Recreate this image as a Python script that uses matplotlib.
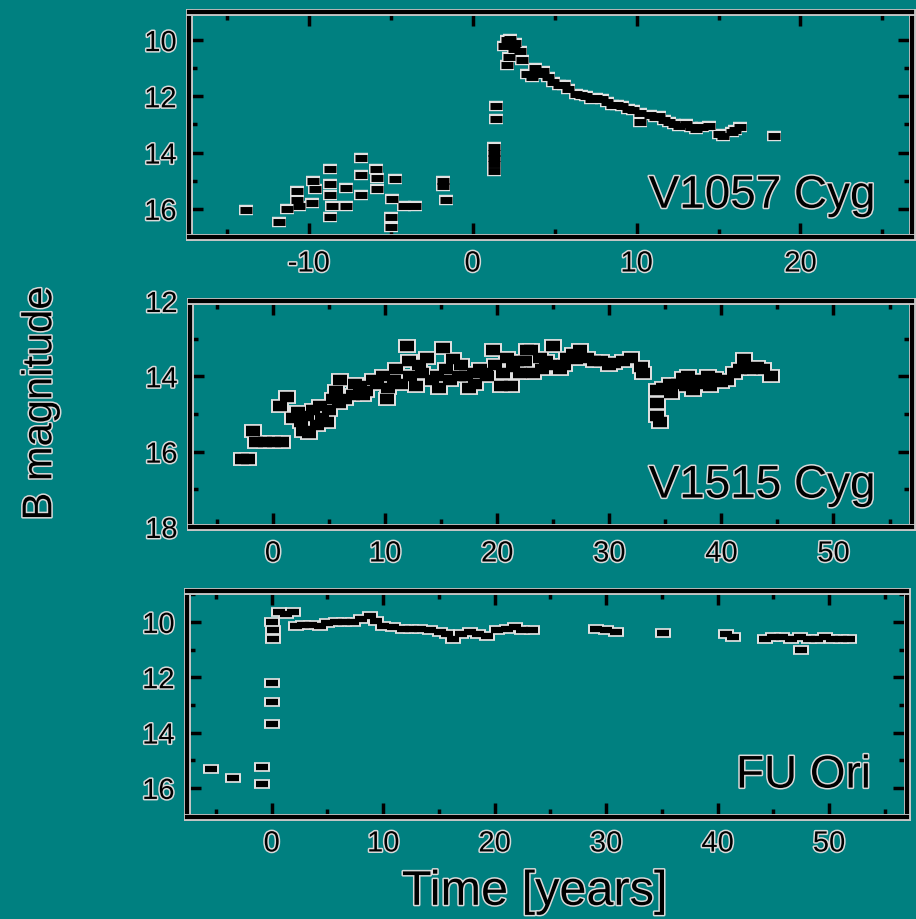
import matplotlib
matplotlib.use("Agg")
import matplotlib.pyplot as plt
import matplotlib.patheffects as pe
from matplotlib.ticker import MultipleLocator

plt.rcParams['font.family'] = ['Liberation Sans', 'DejaVu Sans']
plt.rcParams['axes.unicode_minus'] = False

BG = '#008080'

# V1057 Cyg light curve (years from outburst, B mag)
v1057_t = [-13.8, -11.8, -11.3, -10.7, -10.7, -10.6, -9.75, -9.8, -9.6, -8.7, -8.7,
           -8.7, -8.6, -8.7, -7.7, -7.7, -6.8, -6.8, -6.8, -5.85, -5.85, -5.9, -4.75,
           -4.9, -4.95, -5.0, -4.2, -3.5, -1.8, -1.8, -1.6,
           1.3, 1.3, 1.3, 1.3, 1.3, 1.45, 1.45,
           1.9, 2.1, 2.3, 2.6, 2.9, 2.1, 2.2, 2.5, 3.0, 3.3, 3.6, 3.8, 4.0, 4.3, 4.6,
           4.9, 5.3, 5.6, 5.8, 6.3, 6.6, 6.9, 7.2, 7.55, 7.9, 8.2, 8.5, 8.8, 9.1, 9.5,
           9.8, 10.2, 10.2, 10.8, 11.1, 11.4, 11.7, 12.0, 12.3, 12.6, 13.0, 13.3,
           13.6, 14.0, 14.4, 15.0, 15.3, 15.8, 16.0, 16.3, 18.4]
v1057_m = [16.05, 16.45, 16.0, 15.35, 15.7, 15.9, 15.0, 15.8, 15.3, 14.6, 15.1,
           15.5, 15.9, 16.3, 15.25, 15.9, 14.2, 14.8, 15.5, 14.9, 15.3, 14.6, 14.95,
           15.65, 16.3, 16.65, 15.9, 15.9, 15.0, 15.2, 15.7,
           13.8, 14.0, 14.2, 14.4, 14.65, 12.35, 12.8,
           10.2, 10.0, 9.95, 10.1, 10.4, 10.9, 10.6, 10.3, 10.7, 11.2, 11.3, 11.0,
           11.2, 11.1, 11.3, 11.5, 11.6, 11.6, 11.75, 11.9, 11.95, 12.0, 12.1, 12.05,
           12.1, 12.2, 12.3, 12.3, 12.35, 12.45, 12.5, 12.6, 12.9, 12.65, 12.75,
           12.7, 12.85, 12.9, 13.0, 13.05, 13.0, 13.1, 13.15, 13.1, 13.05, 13.35,
           13.4, 13.25, 13.2, 13.1, 13.4]

# V1515 Cyg light curve
v1515_t = [-2.8, -2.2, -1.8, -1.5, -0.7, 0.1, 0.8,
           0.6, 1.25, 1.8, 2.2, 2.7, 3.0, 3.2, 3.6, 4.2, 4.4, 4.8, 5.0, 5.4, 5.6, 6.0,
           6.4, 7.1, 7.3, 7.8, 8.3, 8.9, 9.8, 10.2, 10.3, 10.8, 11.4, 12.0, 12.1, 12.2,
           12.8, 13.3, 13.75, 14.2, 14.6, 15.2, 15.4, 15.8, 16.1, 16.6, 17.2, 17.9,
           18.5, 19.1, 19.6, 19.8, 20.3, 20.9, 21.2, 21.4, 22.0, 22.7, 23.2, 23.8,
           24.4, 25.0, 25.6, 26.2, 26.8, 27.4, 28.0, 28.6, 29.3, 30.0, 30.4, 31.2,
           31.9, 32.8, 33.0, 20.5, 22.5, 24.0, 26.0, 18.0, 16.8, 2.5, 3.9, 5.9,
           8.0, 9.3, 11.0, 13.0, 14.8, 17.5, 19.0, 21.8, 23.0, 24.8, 27.0,
           34.3, 34.3, 34.3, 34.5, 34.8, 35.4, 36.1, 36.6, 37.0, 37.5, 38.1, 38.8,
           39.4, 40.0, 40.5, 41.1, 41.7, 42.0, 42.6, 43.2, 43.75, 44.4, 35.5, 36.8,
           38.4, 39.0]
v1515_m = [16.2, 16.2, 15.45, 15.75, 15.75, 15.75, 15.75,
           14.8, 14.55, 15.1, 14.95, 15.45, 15.05, 15.5, 14.9, 14.8, 15.1, 15.2, 14.9,
           14.6, 14.4, 14.1, 14.6, 14.5, 14.2, 14.25, 14.4, 14.1, 14.0, 14.6, 14.3,
           14.1, 14.2, 13.2, 13.6, 14.0, 14.25, 13.9, 13.5, 14.1, 14.0, 13.25, 13.8,
           14.1, 13.55, 14.0, 14.0, 13.9, 13.8, 14.0, 13.3, 13.7, 14.25, 13.5, 14.25,
           13.75, 13.9, 13.3, 13.9, 13.5, 13.6, 13.2, 13.8, 13.5, 13.4, 13.3, 13.5,
           13.6, 13.6, 13.7, 13.65, 13.6, 13.5, 13.75, 13.9, 13.9, 13.6, 13.8, 13.7,
           14.2, 13.7, 15.2, 15.3, 14.7, 14.5, 14.2, 13.8, 13.7, 14.3, 14.3,
           13.9, 13.6, 13.3, 13.7, 13.55,
           14.35, 14.7, 15.05, 15.2, 14.3, 14.2, 14.2, 14.05, 14.0, 14.35, 14.1, 14.0,
           14.05, 14.15, 14.1, 13.9, 13.8, 13.55, 13.8, 13.75, 13.8, 14.0, 14.45, 14.25,
           14.2, 14.25]

# FU Ori light curve
fuori_t = [-5.4, -3.5, -0.9, -0.9, 0.0, 0.0, 0.0, 0.1, 0.1, 0.05,
           0.7, 1.3, 1.9, 2.2, 2.8, 3.5, 4.3, 5.0, 5.8, 6.5, 7.3, 8.0, 8.8, 9.4, 10.0,
           10.9, 11.75, 12.5, 13.3, 14.2, 15.1, 15.7, 16.3, 17.0, 17.8, 18.5, 19.3,
           20.2, 21.1, 21.8, 22.5, 23.4,
           29.1, 30.0, 30.9, 35.1, 40.8, 41.4, 44.3, 45.0, 45.8, 46.6, 47.4, 47.5,
           48.2, 48.9, 49.6, 50.3, 51.1, 51.8]
fuori_m = [15.3, 15.65, 15.25, 15.85, 12.2, 12.9, 13.7, 10.6, 10.3, 10.0,
           9.65, 9.7, 9.65, 10.15, 10.1, 10.1, 10.15, 10.05, 10.0, 10.0, 10.0, 9.9,
           9.8, 9.95, 10.15, 10.2, 10.25, 10.25, 10.25, 10.3, 10.35, 10.45, 10.6,
           10.45, 10.35, 10.45, 10.5, 10.3, 10.25, 10.2, 10.3, 10.3,
           10.25, 10.3, 10.35, 10.4, 10.45, 10.55, 10.6, 10.55, 10.55, 10.6, 10.55,
           11.0, 10.6, 10.6, 10.55, 10.6, 10.6, 10.6]

halo = [pe.withStroke(linewidth=2.2, foreground='#d9d9d9')]

fig = plt.figure(figsize=(9.16, 9.20), dpi=100, facecolor=BG)

panels = [
    # rect, t, m, name, xlim, ylim, yticks, dash length, dash thickness
    ([0.2063, 0.7413, 0.7893, 0.2446], v1057_t, v1057_m, 'V1057 Cyg',
     (-17.3, 26.8), (17.0, 9.0), [10, 12, 14, 16], 8, 5),
    ([0.2074, 0.4261, 0.7882, 0.2456], v1515_t, v1515_m, 'V1515 Cyg',
     (-7.4, 57.0), (18.0, 12.0), [12, 14, 16, 18], 10.5, 7.5),
    ([0.2041, 0.1109, 0.7861, 0.2457], fuori_t, fuori_m, 'FU Ori',
     (-7.6, 57.0), (17.05, 8.88), [10, 12, 14, 16], 8.5, 4.5),
]

for rect, t, m, name, xlim, ylim, yticks, ms, mw in panels:
    ax = fig.add_axes(rect)
    ax.set_facecolor(BG)
    # pale rim first, black dashes on top
    ax.plot(t, m, '_', color='#e0e0e0', markersize=ms + 2.5, markeredgewidth=mw + 2.5,
            zorder=2)
    ax.plot(t, m, '_', color='black', markersize=ms, markeredgewidth=mw, zorder=3)
    ax.set_xlim(*xlim)
    ax.set_ylim(*ylim)
    ax.xaxis.set_major_locator(MultipleLocator(10))
    ax.xaxis.set_minor_locator(MultipleLocator(5))
    ax.set_yticks(yticks)
    ax.yaxis.set_minor_locator(MultipleLocator(1))
    ax.tick_params(which='both', direction='in', top=True, right=True,
                   color='black', width=2.5)
    ax.tick_params(which='major', length=10, labelsize=21, pad=9)
    ax.tick_params(which='minor', length=6)
    for lab in ax.get_xticklabels() + ax.get_yticklabels():
        lab.set_path_effects(halo)
    for sp in ax.spines.values():
        sp.set_linewidth(3)
        sp.set_color('black')
        sp.set_path_effects([pe.withStroke(linewidth=5, foreground='#c8c8c8')])
    ax.text(0.95, 0.13, name, transform=ax.transAxes, ha='right', va='baseline',
            fontsize=33, color='black', path_effects=halo)

fig.text(0.044, 0.56, 'B magnitude', rotation=90, ha='center', va='center',
         fontsize=30, color='black', path_effects=halo)
fig.text(0.584, 0.029, 'Time [years]', ha='center', va='center',
         fontsize=35, color='black', path_effects=halo)

fig.savefig('out.png', dpi=100, facecolor=BG)
